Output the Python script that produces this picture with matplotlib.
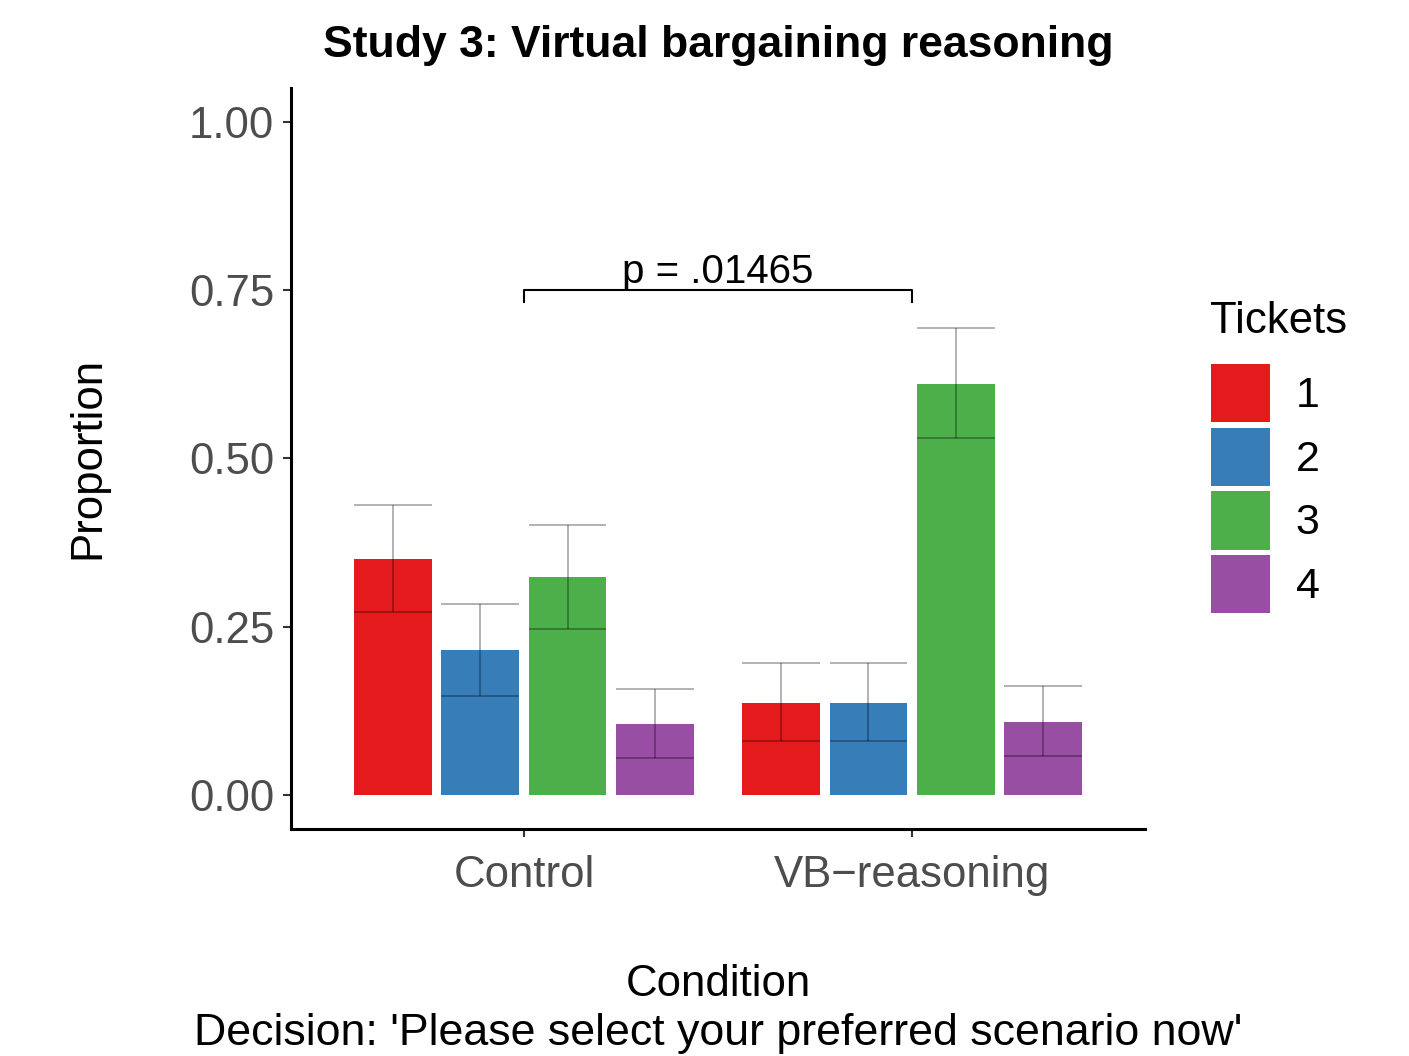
import matplotlib
matplotlib.use('Agg')
import matplotlib.pyplot as plt
from matplotlib.patches import Patch
import numpy as np

# ---- data ----
conditions = ['Control', 'VB\u2212reasoning']
tickets = ['1', '2', '3', '4']
colors = ['#E41A1C', '#377EB8', '#4DAF4A', '#984EA3']
prop_control = [0.351, 0.215, 0.324, 0.106]
prop_vb = [0.137, 0.137, 0.611, 0.109]
lower_control = [0.272, 0.147, 0.247, 0.056]
upper_control = [0.431, 0.284, 0.401, 0.158]
lower_vb = [0.081, 0.081, 0.530, 0.059]
upper_vb = [0.197, 0.197, 0.693, 0.163]
yticks = [0.00, 0.25, 0.50, 0.75, 1.00]
ytick_labels = ['0.00', '0.25', '0.50', '0.75', '1.00']
p_label = 'p = .01465'
bracket_y = 0.75
bracket_drop = 0.017

plt.rcParams['font.family'] = ['Liberation Sans', 'DejaVu Sans']

W, H = 1409, 1056
fig = plt.figure(figsize=(W / 100, H / 100), dpi=100)
ax = fig.add_axes([291 / W, 1 - 829 / H, (1145 - 291) / W, (829 - 88) / H])

x = np.arange(len(conditions)) + 1
dodge = 0.225
bw = 0.2
for i, t in enumerate(tickets):
    off = (i - (len(tickets) - 1) / 2) * dodge
    xs = x + off
    vals = [prop_control[i], prop_vb[i]]
    lo = [lower_control[i], lower_vb[i]]
    up = [upper_control[i], upper_vb[i]]
    ax.bar(xs, vals, width=bw, color=colors[i], edgecolor='none', zorder=2)
    ax.vlines(xs, lo, up, color='black', alpha=0.38, lw=1.1, zorder=3)
    ax.hlines(lo, xs - bw / 2, xs + bw / 2, color='black', alpha=0.38, lw=1.1, zorder=3)
    ax.hlines(up, xs - bw / 2, xs + bw / 2, color='black', alpha=0.38, lw=1.1, zorder=3)

# significance bracket
ax.plot([x[0], x[0], x[1], x[1]],
        [bracket_y - bracket_drop, bracket_y, bracket_y, bracket_y - bracket_drop],
        color='black', lw=1.5, zorder=4)
ax.text((x[0] + x[1]) / 2, bracket_y + 0.011, p_label, ha='center', va='baseline',
        fontsize=29, color='black')

ax.set_xlim(0.4, 2.6)
ax.set_ylim(-0.05, 1.05)
ax.set_xticks(x)
ax.set_xticklabels(conditions)
ax.set_yticks(yticks)
ax.set_yticklabels(ytick_labels)
for s in ['top', 'right']:
    ax.spines[s].set_visible(False)
for s in ['left', 'bottom']:
    ax.spines[s].set_linewidth(2.2)
    ax.spines[s].set_color('black')
ax.tick_params(length=6, width=1.5, color='#333333', labelsize=31.5,
               labelcolor='#4D4D4D', pad=6)
ax.tick_params(axis='x', pad=13)

ax.set_title('Study 3: Virtual bargaining reasoning', fontsize=32,
             fontweight='bold', pad=22)

fig.text(88 / W, 1 - 458 / H, 'Proportion', rotation=90, ha='center', va='center',
         fontsize=31.5)
fig.text(718 / W, 1 - 996 / H, 'Condition', ha='center', va='baseline', fontsize=31.5)
fig.text(718 / W, 1 - 1045 / H, "Decision: 'Please select your preferred scenario now'",
         ha='center', va='baseline', fontsize=32.2)

fig.text(1210 / W, 1 - 333 / H, 'Tickets', ha='left', va='baseline', fontsize=31.5)
handles = [Patch(facecolor=c, edgecolor='none') for c in colors]
fig.legend(handles, tickets, loc='upper left', bbox_to_anchor=(1211 / W, 1 - 364 / H),
           frameon=False, fontsize=31, handlelength=1.37, handleheight=1.71,
           labelspacing=0.12, handletextpad=0.6, borderpad=0, borderaxespad=0)

fig.savefig('out.png', dpi=100)
